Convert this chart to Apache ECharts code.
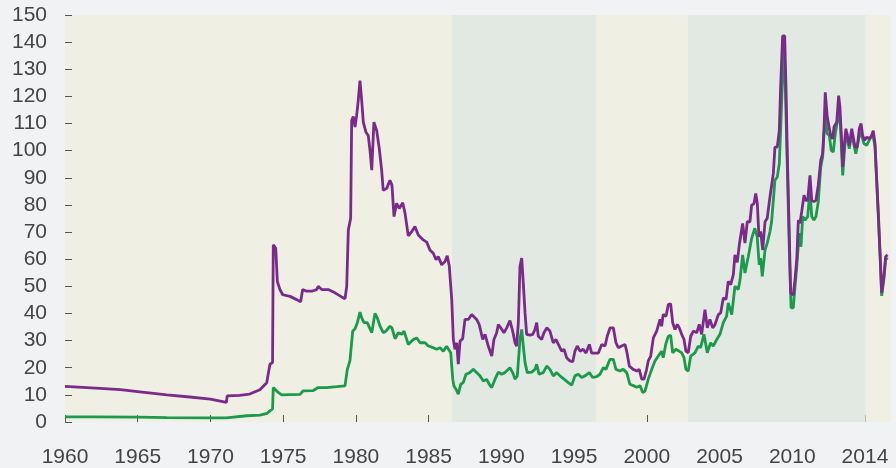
<!DOCTYPE html>
<html>
<head>
<meta charset="utf-8">
<script src="https://cdn.jsdelivr.net/npm/echarts@6/dist/echarts.min.js"></script>
<style>
  html, body { margin: 0; padding: 0; background: #f1f2f4; }
  #chart { width: 896px; height: 468px; }
</style>
</head>
<body>
<div id="chart"></div>
<script>
// tick marks on the time axis and what is printed under them
const xTickValues = [1960, 1965, 1970, 1975, 1980, 1985, 1990, 1995, 2000, 2005, 2010, 2015]
const xTickLabels = ['1960', '1965', '1970', '1975', '1980', '1985', '1990', '1995', '2000', '2005', '2010', '2014']

// shaded periods (start, end)
const shadedStart = [1986.61, 2002.83]
const shadedEnd = [1996.51, 2015.05]

// purple line
const realYear = [
  1960.00, 1962.41, 1963.80, 1965.00, 1967.00, 1968.40, 1970.00, 1971.10, 1971.15, 1972.00, 1972.70, 1973.40, 1973.87, 1974.09, 1974.27,
  1974.32, 1974.49, 1974.60, 1974.78, 1974.97, 1975.47, 1975.93, 1976.20, 1976.34, 1976.62, 1976.96, 1977.30, 1977.41, 1977.65, 1978.10,
  1978.56, 1979.02, 1979.25, 1979.37, 1979.48, 1979.64, 1979.71, 1979.82, 1979.94, 1980.05, 1980.16, 1980.28, 1980.40, 1980.51, 1980.69,
  1980.85, 1980.97, 1981.09, 1981.24, 1981.43, 1981.61, 1981.77, 1981.88, 1982.12, 1982.34, 1982.48, 1982.62, 1982.80, 1982.98, 1983.22,
  1983.38, 1983.60, 1983.84, 1984.06, 1984.29, 1984.63, 1984.87, 1985.09, 1985.32, 1985.51, 1985.66, 1985.90, 1986.13, 1986.28, 1986.42,
  1986.59, 1986.70, 1986.81, 1986.93, 1987.04, 1987.16, 1987.34, 1987.50, 1987.73, 1987.96, 1988.07, 1988.30, 1988.48, 1988.72, 1988.88,
  1989.10, 1989.34, 1989.49, 1989.68, 1989.79, 1989.96, 1990.18, 1990.37, 1990.59, 1990.78, 1990.94, 1991.05, 1991.17, 1991.28, 1991.40,
  1991.51, 1991.63, 1991.74, 1991.97, 1992.16, 1992.31, 1992.43, 1992.54, 1992.77, 1992.93, 1993.12, 1993.34, 1993.57, 1993.76, 1993.98,
  1994.15, 1994.31, 1994.49, 1994.72, 1994.91, 1995.06, 1995.22, 1995.41, 1995.63, 1995.82, 1996.05, 1996.21, 1996.44, 1996.67, 1996.90,
  1997.13, 1997.28, 1997.47, 1997.70, 1997.88, 1998.04, 1998.27, 1998.50, 1998.62, 1998.80, 1999.07, 1999.31, 1999.48, 1999.65, 1999.81,
  1999.99, 2000.10, 2000.27, 2000.45, 2000.68, 2000.91, 2001.02, 2001.13, 2001.32, 2001.48, 2001.64, 2001.78, 2001.94, 2002.10, 2002.23,
  2002.40, 2002.56, 2002.69, 2002.85, 2003.02, 2003.20, 2003.43, 2003.61, 2003.77, 2004.00, 2004.16, 2004.34, 2004.53, 2004.69, 2004.92,
  2005.08, 2005.26, 2005.45, 2005.60, 2005.77, 2005.95, 2006.06, 2006.22, 2006.36, 2006.59, 2006.75, 2006.91, 2007.09, 2007.21, 2007.37,
  2007.49, 2007.60, 2007.71, 2007.83, 2007.97, 2008.13, 2008.28, 2008.47, 2008.58, 2008.70, 2008.81, 2008.97, 2009.11, 2009.20, 2009.34,
  2009.48, 2009.57, 2009.66, 2009.80, 2009.89, 2010.07, 2010.19, 2010.31, 2010.42, 2010.53, 2010.65, 2010.81, 2010.92, 2011.06, 2011.22,
  2011.34, 2011.49, 2011.63, 2011.79, 2011.96, 2012.09, 2012.18, 2012.27, 2012.41, 2012.51, 2012.64, 2012.78, 2012.87, 2013.06, 2013.19,
  2013.28, 2013.37, 2013.47, 2013.56, 2013.69, 2013.78, 2013.92, 2014.09, 2014.20, 2014.32, 2014.47, 2014.61, 2014.73, 2014.84, 2014.98,
  2015.12, 2015.30, 2015.46, 2015.57, 2015.69, 2015.81, 2015.92, 2016.03, 2016.15, 2016.30, 2016.42, 2016.56
]
const realPrice = [
  13.1, 12.4, 11.9, 11.2, 10.0, 9.3, 8.4, 7.2, 9.6, 9.8, 10.3, 11.9, 14.5, 21.3, 21.9,
  65.3, 64.0, 51.8, 48.8, 46.9, 46.3, 45.1, 44.3, 48.8, 48.2, 48.2, 48.8, 50.0, 48.8, 48.8,
  47.6, 46.1, 45.4, 50.0, 70.8, 75.1, 111.1, 112.6, 108.7, 112.9, 118.4, 125.8, 118.4, 110.5, 106.8,
  105.6, 100.1, 92.8, 110.5, 107.4, 100.7, 92.8, 85.4, 86.1, 89.1, 87.3, 75.7, 80.6, 78.7, 80.8,
  76.9, 68.6, 70.2, 72.0, 68.9, 67.1, 66.3, 63.4, 62.2, 59.8, 61.0, 57.9, 59.2, 61.3, 57.5,
  45.1, 30.4, 26.8, 29.2, 21.3, 29.8, 30.7, 37.8, 37.8, 39.6, 40.2, 37.8, 35.9, 30.4, 32.3,
  28.0, 24.3, 30.4, 32.9, 35.9, 34.7, 32.9, 34.7, 37.4, 33.5, 29.2, 28.0, 36.6, 57.3, 60.4,
  51.2, 40.2, 32.3, 32.0, 32.3, 34.1, 36.6, 31.6, 30.4, 32.9, 34.7, 33.5, 29.2, 30.4, 28.0,
  26.1, 26.8, 23.7, 22.5, 22.2, 26.1, 28.0, 26.1, 26.8, 25.4, 28.6, 25.4, 25.4, 25.4, 28.6,
  28.0, 31.6, 34.7, 34.7, 29.2, 27.4, 28.0, 28.6, 26.1, 20.6, 19.4, 18.8, 19.4, 15.8, 15.8,
  19.4, 22.5, 24.3, 31.0, 33.5, 37.8, 35.3, 39.6, 39.0, 43.3, 43.6, 36.6, 34.1, 36.0, 34.7,
  32.3, 30.4, 26.1, 25.5, 31.6, 33.5, 32.9, 36.0, 32.3, 41.4, 34.7, 37.8, 34.7, 35.9, 39.6,
  40.2, 45.7, 45.2, 51.8, 50.6, 54.3, 61.6, 58.8, 65.3, 73.2, 65.9, 73.8, 73.8, 79.9, 80.5,
  84.2, 80.5, 68.3, 70.2, 63.4, 73.8, 75.1, 83.0, 83.6, 91.6, 101.3, 101.3, 107.4, 123.3, 142.3,
  142.3, 123.3, 98.9, 68.3, 47.6, 46.9, 52.4, 59.8, 74.4, 73.2, 77.5, 83.6, 81.7, 81.7, 90.9,
  81.7, 81.2, 81.7, 87.3, 96.4, 98.9, 107.4, 121.5, 112.3, 112.3, 105.6, 104.4, 108.7, 110.5, 120.3,
  116.0, 106.2, 94.0, 101.3, 108.1, 107.4, 101.9, 108.1, 108.7, 101.3, 101.3, 108.1, 110.0, 105.6, 103.8,
  105.0, 104.4, 105.6, 107.4, 102.6, 89.1, 76.9, 63.4, 47.6, 53.7, 61.0, 61.6
]

// green line
const nominalYear = [
  1960.00, 1962.00, 1965.00, 1967.00, 1970.00, 1971.10, 1971.15, 1972.50, 1973.40, 1973.90, 1974.09, 1974.27,
  1974.32, 1974.44, 1974.66, 1974.90, 1975.47, 1976.16, 1976.38, 1977.07, 1977.41, 1977.99, 1978.68, 1979.25, 1979.41,
  1979.59, 1979.78, 1979.94, 1980.10, 1980.28, 1980.40, 1980.56, 1980.78, 1981.09, 1981.31, 1981.47, 1981.66, 1981.88,
  1982.07, 1982.34, 1982.48, 1982.69, 1982.92, 1983.15, 1983.31, 1983.60, 1983.95, 1984.18, 1984.41, 1984.75, 1984.98,
  1985.32, 1985.55, 1985.78, 1986.01, 1986.24, 1986.35, 1986.52, 1986.66, 1986.74, 1986.88, 1987.04, 1987.21, 1987.38,
  1987.57, 1987.84, 1988.07, 1988.30, 1988.53, 1988.76, 1988.99, 1989.17, 1989.34, 1989.56, 1989.79, 1990.02, 1990.25,
  1990.59, 1990.78, 1990.94, 1991.10, 1991.28, 1991.40, 1991.51, 1991.63, 1991.78, 1992.09, 1992.31, 1992.43, 1992.59,
  1992.88, 1993.12, 1993.34, 1993.57, 1993.81, 1994.03, 1994.31, 1994.60, 1994.84, 1995.06, 1995.29, 1995.52, 1995.75,
  1996.05, 1996.28, 1996.55, 1996.78, 1997.01, 1997.19, 1997.47, 1997.70, 1997.88, 1998.16, 1998.38, 1998.62, 1998.84,
  1999.07, 1999.31, 1999.53, 1999.72, 1999.88, 2000.10, 2000.34, 2000.56, 2000.79, 2001.02, 2001.13, 2001.30, 2001.48,
  2001.64, 2001.78, 2002.01, 2002.23, 2002.40, 2002.56, 2002.69, 2002.85, 2003.02, 2003.31, 2003.54, 2003.70, 2003.93,
  2004.16, 2004.39, 2004.57, 2004.81, 2005.03, 2005.26, 2005.49, 2005.60, 2005.84, 2006.06, 2006.29, 2006.41, 2006.59,
  2006.75, 2006.98, 2007.21, 2007.43, 2007.59, 2007.73, 2007.83, 2007.94, 2008.13, 2008.28, 2008.47, 2008.58, 2008.70,
  2008.81, 2008.97, 2009.11, 2009.20, 2009.34, 2009.45, 2009.57, 2009.66, 2009.80, 2009.92, 2010.07, 2010.19, 2010.31,
  2010.48, 2010.60, 2010.72, 2010.88, 2011.06, 2011.22, 2011.34, 2011.49, 2011.63, 2011.79, 2011.96, 2012.09, 2012.18,
  2012.27, 2012.41, 2012.55, 2012.68, 2012.82, 2012.96, 2013.09, 2013.21, 2013.32, 2013.47, 2013.61, 2013.74, 2013.92,
  2014.09, 2014.20, 2014.37, 2014.50, 2014.66, 2014.78, 2014.93, 2015.12, 2015.35, 2015.53, 2015.69, 2015.81, 2015.92,
  2016.03, 2016.15, 2016.30, 2016.42, 2016.56
]
const nominalPrice = [
  1.9, 1.9, 1.8, 1.6, 1.5, 1.5, 2.1, 2.3, 2.5, 3.2, 4.1, 4.8,
  12.7, 13.0, 10.9, 10.0, 10.1, 10.2, 11.5, 11.6, 12.7, 12.7, 13.0, 13.3, 19.4,
  22.5, 33.5, 34.4, 36.6, 40.5, 38.4, 36.6, 36.6, 32.9, 40.0, 38.4, 35.3, 32.9,
  33.5, 35.3, 34.7, 30.7, 32.9, 32.3, 33.5, 28.6, 30.4, 31.0, 29.2, 29.2, 28.0,
  27.4, 26.8, 27.4, 26.1, 27.9, 28.0, 25.5, 15.8, 13.3, 12.1, 10.3, 13.9, 14.5,
  17.6, 18.2, 19.4, 18.2, 17.0, 15.1, 15.7, 13.9, 12.7, 15.7, 18.4, 17.6, 18.2,
  20.0, 18.2, 15.8, 17.0, 30.4, 34.1, 28.0, 21.9, 18.2, 18.4, 19.4, 21.3, 17.6,
  18.2, 20.6, 19.4, 17.0, 18.2, 17.0, 15.8, 14.5, 13.6, 17.0, 17.6, 16.4, 17.0,
  18.2, 16.4, 16.7, 17.6, 20.0, 19.4, 23.1, 23.1, 19.4, 18.8, 19.4, 18.2, 13.9,
  13.4, 12.8, 13.4, 10.9, 11.4, 15.8, 19.4, 22.5, 24.3, 26.1, 23.7, 28.6, 31.6,
  32.0, 25.5, 26.8, 26.1, 25.5, 23.7, 19.4, 18.8, 24.3, 25.5, 28.0, 27.4, 32.3,
  25.5, 29.2, 28.0, 30.4, 32.3, 36.6, 39.0, 43.9, 39.6, 50.0, 48.8, 52.4, 61.6,
  54.9, 61.0, 67.7, 71.4, 68.3, 57.9, 60.4, 53.7, 63.4, 65.9, 70.2, 73.8, 81.7,
  89.1, 90.3, 95.2, 107.4, 128.2, 138.0, 114.0, 94.0, 63.0, 42.1, 42.1, 50.0, 57.3,
  69.6, 64.6, 75.7, 74.4, 75.7, 85.4, 75.7, 74.4, 75.7, 81.2, 94.0, 97.7, 106.2,
  112.3, 106.2, 105.6, 100.1, 99.5, 106.2, 110.5, 116.0, 108.7, 90.9, 101.3, 106.8, 100.7,
  106.2, 105.6, 98.9, 99.5, 106.8, 105.6, 102.6, 102.0, 104.4, 106.2, 101.5, 88.0, 75.5,
  62.0, 46.5, 52.5, 59.8, 60.5
]

const toPairs = (xs, ys) => xs.map((x, i) => [x, ys[i]])

const chart = echarts.init(document.getElementById('chart'))
const textColor = '#444'
const fontFamily = '"Liberation Sans", Arial, sans-serif'

const option = {
  backgroundColor: '#f1f2f4',
  animation: false,
  grid: {
    show: true,
    left: 65,
    right: 5,
    top: 15,
    bottom: 46,
    backgroundColor: '#efefe4',
    borderWidth: 0
  },
  xAxis: {
    type: 'value',
    min: 1960,
    max: 2016.79,
    axisLine: { show: false },
    splitLine: { show: false },
    axisTick: {
      customValues: xTickValues,
      inside: true,
      length: 7,
      lineStyle: { color: '#555', width: 1 }
    },
    axisLabel: {
      customValues: xTickValues,
      formatter: v => {
        const i = xTickValues.indexOf(v)
        return i < 0 ? '' : xTickLabels[i]
      },
      margin: 25,
      fontSize: 21,
      color: textColor,
      fontFamily: fontFamily
    }
  },
  yAxis: {
    type: 'value',
    min: 0,
    max: 150,
    interval: 10,
    axisLine: { show: false },
    splitLine: { show: false },
    axisTick: {
      inside: true,
      length: 7,
      lineStyle: { color: '#555', width: 1 }
    },
    axisLabel: {
      margin: 18,
      fontSize: 21,
      color: textColor,
      fontFamily: fontFamily
    }
  },
  series: [
    {
      type: 'line',
      name: 'nominal',
      data: toPairs(nominalYear, nominalPrice),
      showSymbol: false,
      lineStyle: { color: '#1a9a4a', width: 2.8 },
      itemStyle: { color: '#1a9a4a' },
      z: 2,
      markArea: {
        silent: true,
        itemStyle: { color: '#e2e9e2' },
        data: shadedStart.map((s, i) => [{ xAxis: s }, { xAxis: shadedEnd[i] }])
      }
    },
    {
      type: 'line',
      name: 'real',
      data: toPairs(realYear, realPrice),
      showSymbol: false,
      lineStyle: { color: '#7b2a8b', width: 2.8 },
      itemStyle: { color: '#7b2a8b' },
      z: 3
    }
  ]
}
chart.setOption(option)
</script>
</body>
</html>
